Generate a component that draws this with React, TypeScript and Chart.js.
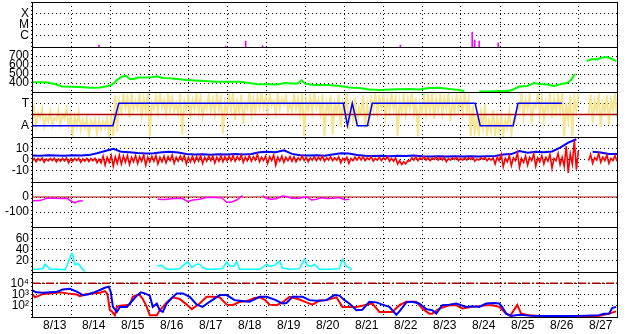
import React, { useEffect, useRef } from 'react';
import { Chart, registerables } from 'chart.js';

Chart.register(...registerables);

// ---------- axis / tick data ----------
const dayLabels = ['8/13', '8/14', '8/15', '8/16', '8/17', '8/18', '8/19', '8/20', '8/21', '8/22', '8/23', '8/24', '8/25', '8/26', '8/27'];
const dayBoundaryHours = [0, 24, 48, 72, 96, 120, 144, 168, 192, 216, 240, 264, 288, 312, 336, 360];
const dayLabelHours = [14, 38, 62, 86, 110, 134, 158, 182, 206, 230, 254, 278, 302, 326, 350];

const xrayTicks = [1e-6, 1e-5, 1e-4];
const xrayTickLabels = ['C', 'M', 'X'];
const speedTicks = [400, 500, 600, 700];
const polTicks = [-1, 1];
const polTickLabels = ['A', 'T'];
const magTicks = [-10, 0, 10];
const dstTicks = [-100, 0];
const denTicks = [20, 40, 60];
const eTicks = [100, 1000, 10000];
const eTickLabels = ['10²', '10³', '10⁴'];

// ---------- series data (time in hours from 8/13 00:00) ----------
const xrayHours = [41.2, 119.2, 131.5, 141.9, 226.7, 270.9, 272.4, 275.2, 286.9];
const xrayFlux = [1.5e-7, 1.2e-7, 3.4e-7, 1.3e-7, 1.5e-7, 2.1e-6, 4.2e-7, 3.4e-7, 2.3e-7];

const speedHours = [0, 4.9, 9.8, 12.3, 14.7, 18.4, 23.3, 29.5, 35.6, 41.8, 45.5, 47.9, 50.4, 52.8, 55.3, 57.7, 60.2, 62.7, 65.1, 69.4, 73.7, 76.8, 80.5, 84.8, 89.7, 94.6, 100.1, 106.3, 112.4, 120.4, 127.8, 133.9, 138.8, 145.0, 151.1, 155.4, 159.7, 163.4, 165.9, 168.3, 173.8, 176.9, 183.1, 189.2, 195.3, 201.5, 207.6, 213.8, 219.9, 226.1, 232.2, 238.3, 244.5, 250.6, 256.8, 262.9, 266.0, 269.1, 275.2, 281.3, 287.5, 293.6, 296.7, 299.8, 304.7, 309.0, 312.1, 317.0, 321.3, 325.6, 329.3, 331.7, 334.2, 337.9, 341.5, 344.6, 347.7, 350.8, 353.8, 356.9, 359.4];
const speedValues = [408, 408, 405, 395, 386, 362, 359, 355, 348, 350, 362, 372, 397, 440, 470, 480, 445, 445, 460, 462, 463, 475, 455, 452, 445, 433, 428, 422, 415, 413, 415, 400, 386, 385, 383, 400, 395, 395, 430, 390, 378, 378, 378, 367, 350, 345, 328, 322, 328, 330, 333, 328, 345, 348, 333, 322, 311, null, 305, 305, 311, 311, 333, 361, 367, 400, 389, 383, 367, 389, 400, 433, 500, null, 644, 667, 661, 683, 689, 667, 644];

const polHours = [0, 49.8, 53.4, 191.6, 194.1, 197.1, 200.2, 206.4, 209.4, 272.7, 275.8, 296.1, 299.1, 326.2];
const polValues = [-1, -1, 1, 1, -1, 1, -1, -1, 1, 1, -1, -1, 1, 1];

// sector angle (pale yellow): min / max per 2.5 h bin
const phiStepHours = 2.5;
const phiLow = [
  -0.8, -1.0, -0.3, -1.1, -0.6, -1.0, -0.5, -0.9, -0.4, -1.0,
  -1.8, -1.0, -1.3, -1.2, -1.9, -1.1, -1.7, -1.3, -1.2, -1.9,
  -1.9, -1.5,
  0.2, 0.6, -0.3, 0.4, 0.5, -0.1, 0.3, -1.9, 0.5, 0.2, 0.6, 0.0, 0.4, 0.3, 0.1, -1.8, 0.5, 0.0, 0.4, 0.2, -0.2, 0.5, 0.3, 0.0, 0.4, -1.7, 0.2,
  0.4, -0.5, 0.3, -0.8, 0.5, 0.0, 0.3, 0.6,
  0.6, 0.2, 0.8, 0.1, 0.5, 0.9, 0.3,
  0.3, 0.5, 0.0, -1.9, 0.4, 0.2, 0.6, 0.1, -1.9, 0.3, -1.8,
  0.2, -1.1, 0.0, -1.3, -0.5, -1.0, 0.1, -1.2, -0.6,
  0.4, 0.1, 0.6, -0.2, 0.3, 0.5, -1.9, 0.2, 0.0, 0.5, 0.1, -1.9, 0.3,
  0.0, 0.3, -0.4, 0.4, 0.1, 0.5, -0.6, 0.2, 0.4, 0.0, 0.3,
  -1.9, -1.6, -1.9, -1.2, -1.9, -1.5, -1.9,
  -1.5, -1.9, -1.2, -1.8, -0.6,
  0.4, -0.2, 0.5, -0.8, 0.6, 0.0, -0.5, 0.3, -0.3, 0.2,
  0.2, -1.9, -0.5, -1.9, 0.3,
  null, null,
  0.0, -0.8, 0.3, -1.1, 0.2, -0.9, 0.4, -0.3,
];
const phiHigh = [
  0.6, 0.1, 0.5, -0.2, 0.3, -0.3, 0.4, 0.0, 0.5, -0.1,
  -0.2, 0.2, -0.5, -0.3, -0.6, -0.4, -0.5, -0.6, -0.3, -0.2,
  1.7, 1.2,
  1.8, 1.5, 1.9, 1.2, 1.8, 1.4, 1.9, 1.0, 1.6, 1.9, 1.3, 1.8, 1.5, 1.0, 1.9, 1.2, 1.7, 1.3, 1.9, 1.6, 1.0, 1.8, 1.4, 1.9, 1.5, 1.0, 1.7,
  1.9, 1.2, 1.8, 1.0, 1.9, 1.4, 1.6, 1.9,
  1.5, 1.9, 1.2, 1.8, 1.4, 1.7, 1.0,
  1.8, 1.4, 1.9, 1.2, 1.6, 1.9, 1.3, 1.8, 1.1, 1.7, 1.0,
  1.8, 1.0, 1.9, 0.8, 1.5, 0.6, 1.7, 0.9, 1.4,
  1.9, 1.5, 1.8, 1.3, 1.9, 1.6, 1.2, 1.8, 1.4, 1.9, 1.5, 1.0, 1.7,
  1.7, 1.9, 1.4, 1.8, 1.5, 1.9, 1.2, 1.8, 1.6, 1.9, 1.4,
  0.8, -0.3, 0.2, 0.9, -0.5, 0.4, -0.2,
  -0.1, -0.5, 0.3, -0.4, 0.8,
  1.9, 1.3, 1.8, 1.0, 1.9, 1.5, 1.1, 1.8, 1.4, 1.7,
  1.9, 1.0, 1.7, 1.5, 1.9,
  null, null,
  1.8, 1.2, 1.9, 1.0, 1.7, 1.3, 1.9, 1.5,
];

// IMF Bz (red): min / max per 2.5 h bin
const bzStepHours = 2.5;
const bzLow = [
  -1.5, -2.0, -1.0, -2.5, -1.2, -1.0, -2.2, -1.5, -1.2, -3.0, -1.6, -1.0, -2.5, -1.5, -1.8, -1.2, -2.8,
  -3.0, -5.0, -2.5, -6.0, -3.5,
  -4.0, -2.5, -4.5, -2.0, -3.5, -1.5, -5.0, -2.0, -1.5, -4.0, -2.0, -3.0, -1.0, -3.5, -1.5, -1.0, -4.0, -2.0, -2.5, -1.5, -3.5, -1.5, -1.0, -3.0, -1.5, -2.0, -1.0,
  -1.0, -1.5, -0.5, -2.5, -1.0, -1.5, -0.5, -2.0, -1.0, -3.5, -1.0, -5.0, -1.5, -2.5, -1.0,
  -1.5, -2.0, -0.5, -1.0, -2.0, -0.5, -1.0, -0.5, -1.5, -0.5, -1.0, -0.5, -3.0, -1.0, -3.5, -1.0, -0.5,
  -0.5, -1.0, 0.0, -1.5, -0.5, -1.0, 0.0, -1.5, -1.5, -4.0, -4.5, -4.0, -1.5, -0.5, -1.0, 0.0,
  -0.5, -1.0, 0.0, -0.5, -0.5, -2.0, -0.5, 0.0, -1.0, -0.5, -0.5, 0.0, -1.5, -0.5, 0.0, -1.0, -0.5,
  -4.0, -1.0, -6.5, -2.0, -5.5, -1.0, -7.0, -2.5, -5.0, -1.0, -6.0, -2.0, -4.0, -1.5, -7.5, -1.0, -4.5,
  -6, -12, -4, -9,
  null, null,
  -1.0, -3.5, -0.5, -2.5, -1.0, -3.5, -1.0, -1.5,
];
const bzHigh = [
  1.0, 0.8, 1.3, 0.5, 1.0, 1.2, 0.6, 1.0, 1.4, 0.3, 0.9, 1.2, 0.5, 1.0, 0.8, 1.1, 0.4,
  3.0, 2.0, 3.5, 2.5, 4.0,
  3.0, 3.5, 2.0, 3.5, 2.5, 4.0, 2.0, 3.0, 3.5, 2.0, 3.0, 2.5, 4.0, 2.0, 3.0, 3.5, 2.0, 3.0, 2.5, 3.5, 2.0, 3.0, 3.0, 2.0, 3.5, 2.5, 3.0,
  3.5, 2.5, 4.0, 2.0, 3.5, 2.5, 4.5, 2.0, 3.0, 2.5, 4.0, 2.0, 3.0, 2.0, 2.5,
  2.5, 1.5, 3.0, 2.0, 1.5, 2.5, 2.0, 3.0, 1.5, 2.5, 1.5, 2.5, 1.0, 2.0, 1.0, 2.0, 2.5,
  2.5, 1.5, 2.5, 1.0, 2.0, 1.5, 2.5, 1.0, 1.5, -1.0, -2.0, -1.0, 1.5, 2.5, 1.5, 2.5,
  1.5, 1.0, 2.5, 1.5, 2.0, 1.0, 1.5, 2.0, 1.0, 1.5, 1.5, 2.0, 0.5, 1.5, 2.0, 1.0, 1.5,
  2.0, 4.5, 1.0, 3.5, 1.5, 6.0, 1.0, 3.0, 2.0, 5.0, 1.5, 3.5, 2.0, 4.5, 1.0, 5.5, 2.0,
  12, 5, 17, 8,
  null, null,
  4.5, 1.5, 5.5, 2.0, 4.0, 1.0, 3.5, 2.0,
];

// IMF Bt (blue), sampled every 5 h
const btStepHours = 5;
const btValues = [
  3.6, 3.4, 3.8, 3.5, 3.3, 3.7, 3.5, 3.9, 5.5, 7.5, 9.5, 6.8, 6.5, 5.8, 5.4, 5.6, 6.4, 6.8, 6.2, 4.8,
  4.4, 4.7, 4.3, 4.6, 4.4, 4.8, 4.5, 4.9, 6.4, 6.8, 6.5, 8.2, 5.0, 3.8, 3.5, 3.7, 3.4, 4.5, 5.6, 5.3,
  4.0, 3.3, 3.1, 3.4, 3.0, 3.3, 3.2, 3.5, 2.9, 2.7, 2.8, 2.6, 2.9, 2.7, 2.8, 2.6, 2.9, 3.2, 4.5, 4.8,
  7.5, 6.0, 6.8, 6.4, 7.2, 10.5, 15, 18, null, 6.8, 6.2, 4.8, 5.0,
];

const dstHours = [0, 4.9, 9.2, 14.1, 18.4, 21.5, 24.6, 26.4, 28.3, 31.3, 33.2, 77.4, 81.7, 86.0, 89.1, 92.8, 95.8, 98.9, 103.2, 107.5, 112.4, 116.7, 119.8, 122.9, 125.9, 129.6, 135.8, 141.9, 144.4, 147.4, 150.5, 154.2, 156.6, 159.7, 164.6, 168.9, 172.0, 175.1, 178.1, 181.8, 185.5, 189.2, 192.3, 195.3];
const dstValues = [-25, -24, -9, -8, -10, -9, -30, -40, -28, -25, null, -15, -16, -12, -9, -10, -31, -20, -15, -4, -3, -5, -35, -33, -20, 9, null, 9, -10, -15, -12, 7, 3, -9, -8, 2, -20, -15, -5, -10, -8, -3, -18, -15];

const densityHours = [0, 3.7, 6.8, 8.0, 9.8, 11.1, 16.0, 20.3, 21.5, 23.3, 24.6, 25.2, 26.4, 28.3, 29.5, 31.3, 32.6, 34.4, 77.4, 79.9, 81.7, 82.9, 87.8, 90.9, 92.8, 95.8, 98.3, 101.4, 103.2, 105.0, 107.5, 112.4, 117.3, 119.8, 121.6, 124.1, 125.9, 127.8, 133.9, 140.1, 141.9, 144.4, 146.2, 149.3, 152.3, 154.2, 158.5, 164.6, 167.7, 169.5, 172.0, 173.8, 176.9, 183.1, 189.2, 191.0, 193.5, 195.3, 196.6];
const densityValues = [5, 5, 6, 14, 9, 5, 5, 4, 11, 25, 33, 28, 13, 15, 11, 4, 1, null, 11, 12, 7, 5, 5, 6, 11, 18, 8, 14, 14, 8, 5, 5, 6, 18, 11, 10, 18, 5, 5, 5, 8, 14, 10, 12, 19, 7, 5, 6, 23, 12, 10, 14, 5, 5, 6, 23, 10, 8, 3];

// electron flux, log10 values
const eHighHours = [0, 2.5, 6.8, 11.1, 15.4, 19.0, 23.3, 27.6, 31.3, 34.4, 37.5, 41.8, 44.8, 47.3, 48.5, 49.8, 52.2, 54.1, 58.4, 60.2, 62.7, 64.5, 67.0, 69.4, 72.5, 74.3, 76.8, 78.6, 80.5, 82.9, 85.4, 89.1, 92.8, 97.1, 101.4, 105.0, 109.3, 115.5, 119.8, 124.7, 127.8, 133.9, 140.1, 144.4, 149.3, 154.2, 156.6, 160.3, 166.5, 170.8, 175.1, 181.2, 186.1, 189.2, 192.3, 195.3, 199.6, 203.3, 207.6, 211.9, 215.6, 219.9, 224.2, 226.1, 230.4, 234.0, 238.3, 242.6, 246.3, 248.8, 252.5, 256.8, 261.1, 267.2, 270.9, 275.2, 279.5, 284.4, 287.5, 289.3, 291.8, 294.9, 299.8, 307.8, 324.4, 336.6, 348.9, 352.0, 355.1, 357.0, 359.4];
const eHighLog = [3.4, 3.2, 3.15, 3.2, 3.25, 3.45, 3.5, 3.25, 2.95, 3.0, 3.15, 3.4, 3.6, 3.7, 3.2, 1.9, 1.45, 1.9, 1.9, 2.2, 2.6, 2.9, 3.2, 3.1, 2.9, 1.9, 2.2, 1.6, 1.45, 2.2, 2.6, 3.1, 3.1, 2.8, 2.1, 1.9, 2.35, 2.95, 2.95, 2.5, 2.45, 2.35, 2.8, 2.8, 2.55, 2.2, 2.25, 2.8, 2.8, 2.5, 2.45, 2.5, 2.95, 2.9, 2.5, 2.2, 1.6, 1.65, 2.35, 2.3, 2.1, 1.9, 1.2, 1.5, 2.3, 2.35, 2.2, 1.7, 1.6, 1.3, 2.05, 2.1, 2.2, 1.9, 1.95, 1.9, 2.2, 2.25, 2.2, 1.9, 1.3, 1.1, 1.2, 1.1, 1.08, 1.1, 1.15, 1.3, 1.3, 1.8, 1.9];

const eLowHours = [0, 1.8, 3.7, 6.8, 12.9, 17.2, 21.5, 27.6, 29.5, 33.8, 41.8, 44.8, 46.1, 46.7, 47.9, 49.1, 51.0, 52.2, 54.1, 60.2, 62.0, 64.5, 66.3, 68.2, 70.6, 72.5, 76.8, 78.6, 80.5, 82.9, 86.6, 90.9, 95.2, 98.3, 103.2, 107.5, 111.2, 115.5, 119.8, 123.5, 127.8, 132.1, 137.0, 140.1, 143.1, 146.2, 150.5, 154.2, 158.5, 164.6, 168.9, 172.6, 176.9, 181.2, 187.4, 191.0, 195.3, 199.6, 204.6, 209.5, 213.8, 218.1, 221.8, 226.1, 230.4, 236.5, 240.2, 244.5, 246.3, 250.6, 256.8, 261.1, 264.8, 270.9, 279.5, 283.2, 287.5, 291.8, 294.3, 298.6, 301.0, 305.9, 312.1, 330.5, 348.9, 355.1, 359.4];
const eLowLog = [3.1, 2.75, 2.85, 3.05, 3.1, 3.2, 3.1, 3.0, 2.85, 3.05, 3.15, 3.3, 3.1, 2.8, 1.6, 1.5, 1.15, 1.9, 2.0, 2.1, 2.8, 2.95, 2.95, 2.6, 1.9, 1.15, 1.15, 1.6, 1.9, 2.3, 2.75, 2.6, 2.1, 1.7, 2.2, 2.8, 2.8, 2.75, 2.1, 2.05, 2.35, 2.4, 2.7, 2.75, 2.55, 2.1, 2.05, 2.3, 2.8, 2.55, 2.3, 2.1, 2.45, 2.5, 2.75, 1.9, 1.9, 1.9, 2.05, 2.2, 1.45, 1.45, 1.45, 2.05, 2.35, 2.35, 1.75, 1.3, 1.3, 1.75, 2.05, 2.05, 1.75, 1.9, 2.05, 2.05, 1.9, 1.3, 1.1, 2.07, 1.3, 1.15, 1.1, 1.1, 1.1, 1.3, 1.5];

const eAlertLevel = 10000;

// ---------- helpers ----------
const FONT = { family: "'Liberation Sans', Arial, sans-serif", size: 12 };
const pts = (xs: number[], ys: (number | null)[]) => xs.map((x, i) => ({ x, y: ys[i] }));
const stepPts = (step: number, ys: (number | null)[]) => ys.map((y, i) => ({ x: i * step, y }));
// min/max envelope trace: bin minimum at the bin start, bin maximum at mid-bin
const envelopePts = (step: number, lo: (number | null)[], hi: (number | null)[]) =>
  lo.flatMap((l, i) => [
    { x: i * step, y: l },
    { x: i * step + step / 2, y: hi[i] },
  ]);
const logPts = (xs: number[], ls: number[]) => xs.map((x, i) => ({ x, y: Math.pow(10, ls[i]) }));
const flat = (y: number) => [{ x: 0, y }, { x: 360, y }];

function yAxis(weight: number, min: number, max: number, ticks: number[], labels: string[] | null, type = 'linear') {
  return {
    type,
    position: 'left',
    stack: 'panels',
    stackWeight: 1,
    weight,
    min,
    max,
    offset: false,
    grid: { color: '#000', lineWidth: 1, drawTicks: false },
    border: { display: true, color: '#000', width: 1, dash: [1, 3] },
    ticks: {
      autoSkip: false,
      padding: 3,
      color: '#000',
      font: FONT,
      callback: (v: number) => {
        const i = ticks.indexOf(v);
        if (i < 0) return '';
        return labels ? labels[i] : String(v);
      },
    },
    afterBuildTicks: (s: any) => {
      s.ticks = ticks.map((v) => ({ value: v }));
    },
    afterFit: (s: any) => {
      s.width = 32;
      s.paddingTop = 0;
      s.paddingBottom = 0;
    },
  };
}

const framePlugin = {
  id: 'panelFrame',
  afterDatasetsDraw(chart: any) {
    const { ctx, chartArea: a } = chart;
    ctx.save();
    ctx.strokeStyle = '#000';
    ctx.lineWidth = 1;
    ctx.setLineDash([]);
    ctx.beginPath();
    const tops: number[] = [a.top, a.bottom];
    Object.values(chart.scales).forEach((s: any) => {
      if (s.axis === 'y') tops.push(s.top);
    });
    tops.forEach((y) => {
      const py = Math.round(y) + 0.5;
      ctx.moveTo(a.left, py);
      ctx.lineTo(a.right + 1, py);
    });
    const pl = Math.round(a.left) + 0.5;
    const pr = Math.round(a.right) + 0.5;
    ctx.moveTo(pl, a.top);
    ctx.lineTo(pl, a.bottom);
    ctx.moveTo(pr, a.top);
    ctx.lineTo(pr, a.bottom);
    ctx.stroke();
    ctx.restore();
  },
};

const line = (label: string, data: any[], color: string, yAxisID: string, width = 1, extra: any = {}) => ({
  type: 'line',
  label,
  data,
  yAxisID,
  xAxisID: 'x',
  borderColor: color,
  backgroundColor: color,
  borderWidth: width,
  pointRadius: 0,
  tension: 0,
  spanGaps: false,
  fill: false,
  ...extra,
});

const bars = (label: string, data: any[], color: string, yAxisID: string, thickness: number) => ({
  type: 'bar',
  label,
  data,
  yAxisID,
  xAxisID: 'x',
  backgroundColor: color,
  borderWidth: 0,
  barThickness: thickness,
  grouped: false,
});

export default function App() {
  const canvasRef = useRef<HTMLCanvasElement | null>(null);

  useEffect(() => {
    if (!canvasRef.current) return;
    const xTicks = [...dayBoundaryHours, ...dayLabelHours].sort((a, b) => a - b);
    const chart = new Chart(canvasRef.current, {
      type: 'line',
      data: {
        datasets: [
          bars('X-ray', pts(xrayHours, xrayFlux), '#FF00FF', 'yX', 1),
          line('Speed', pts(speedHours, speedValues), '#00FF00', 'ySw', 2),
          line('Polarity', pts(polHours, polValues), '#0000FF', 'yPol', 1.5),
          line('Sector', flat(0), '#B00000', 'yPol', 1.5),
          line('Phi', envelopePts(phiStepHours, phiLow, phiHigh), '#F7E592', 'yPol', 2),
          line('Bz', envelopePts(bzStepHours, bzLow, bzHigh), '#FF0000', 'yMag', 1.6),
          line('Bt', stepPts(btStepHours, btValues), '#0000FF', 'yMag', 2),
          line('Dst', pts(dstHours, dstValues), '#FF00FF', 'yDst', 1.5),
          line('DstZero', flat(0), '#B00000', 'yDst', 1),
          line('Density', pts(densityHours, densityValues), '#00FFFF', 'yDen', 1.5),
          line('E>0.8MeV', logPts(eHighHours, eHighLog), '#0000FF', 'yE', 2),
          line('E>2MeV', logPts(eLowHours, eLowLog), '#FF0000', 'yE', 2),
          line('Alert', flat(eAlertLevel), '#B00000', 'yE', 1.5, { borderDash: [8, 2, 2, 2] }),
        ] as any,
      },
      options: {
        animation: false,
        responsive: false,
        maintainAspectRatio: false,
        devicePixelRatio: 1,
        events: [],
        layout: { padding: { top: 2, right: 11, left: 0, bottom: 0 } },
        plugins: { legend: { display: false }, tooltip: { enabled: false } },
        scales: {
          x: {
            type: 'linear',
            position: 'bottom',
            min: 0,
            max: 360,
            offset: false,
            grid: {
              offset: false,
              drawTicks: false,
              lineWidth: 1,
              color: (c: any) => (c.tick && dayBoundaryHours.includes(c.tick.value) ? '#000' : 'rgba(0,0,0,0)'),
            },
            border: { display: true, color: '#000', width: 1, dash: [1, 3] },
            ticks: {
              autoSkip: false,
              maxRotation: 0,
              padding: 1,
              color: '#000',
              font: FONT,
              callback: (v: number) => {
                const i = dayLabelHours.indexOf(v);
                return i >= 0 ? dayLabels[i] : '';
              },
            },
            afterBuildTicks: (s: any) => {
              s.ticks = xTicks.map((v) => ({ value: v }));
            },
            afterFit: (s: any) => {
              s.height = 17;
              s.paddingLeft = 0;
              s.paddingRight = 0;
            },
          },
          yX: yAxis(7, 1e-7, 1e-3, xrayTicks, xrayTickLabels, 'logarithmic'),
          ySw: yAxis(6, 300, 800, speedTicks, null),
          yPol: yAxis(5, -2, 2, polTicks, polTickLabels),
          yMag: yAxis(4, -20, 20, magTicks, null),
          yDst: yAxis(3, -200, 100, dstTicks, null),
          yDen: yAxis(2, 0, 80, denTicks, null),
          yE: yAxis(1, 10, 100000, eTicks, eTickLabels, 'logarithmic'),
        } as any,
      },
      plugins: [framePlugin],
    });
    return () => chart.destroy();
  }, []);

  return (
    <div style={{ position: 'fixed', left: 0, top: 0, width: 628, height: 334, background: '#fff' }}>
      <canvas ref={canvasRef} width={628} height={334} style={{ display: 'block', width: 628, height: 334 }} />
    </div>
  );
}
